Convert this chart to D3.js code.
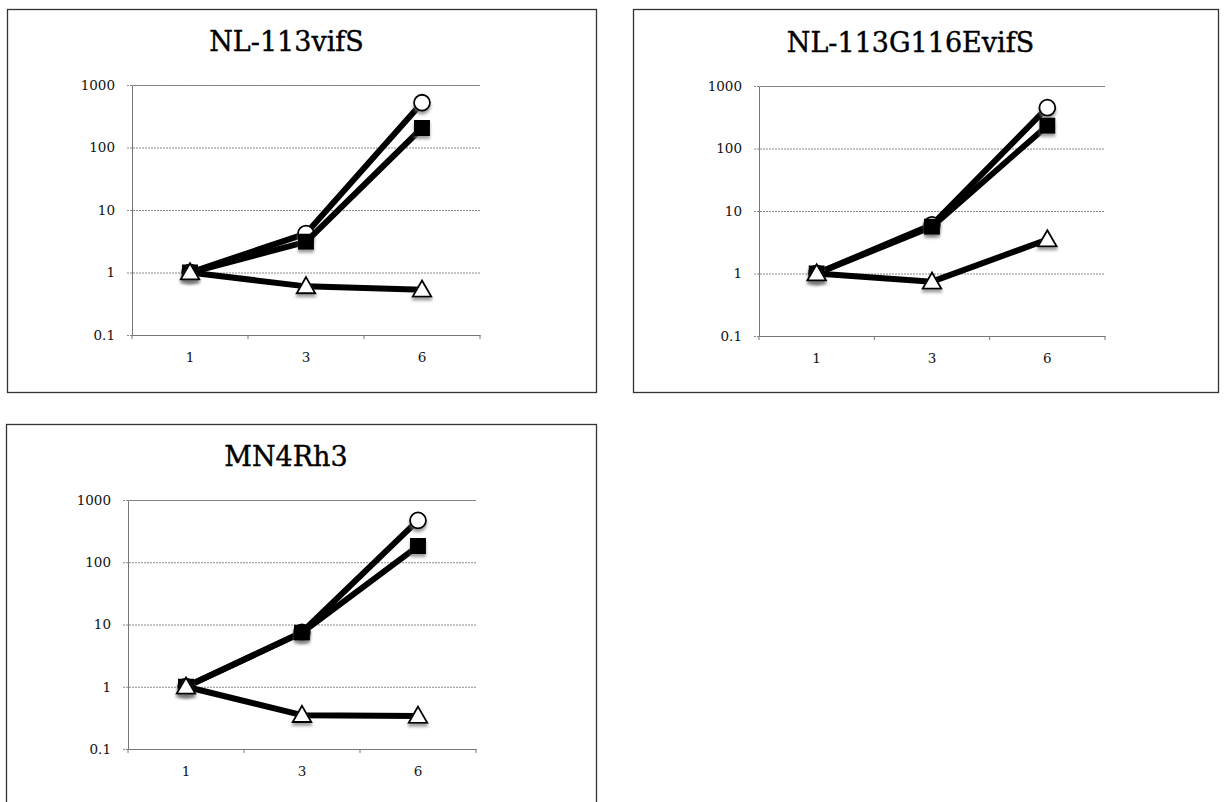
<!DOCTYPE html>
<html>
<head>
<meta charset="utf-8">
<script src="https://cdn.jsdelivr.net/npm/d3@7"></script>
<style>
  body { margin: 0; background: #fff; }
  svg { display: block; }
</style>
</head>
<body>
<svg id="chart" width="1224" height="802"></svg>
<script>
'use strict';

// chart data
var days = ['1', '3', '6'];
var panelTitles = ['NL-113vifS', 'NL-113G116EvifS', 'MN4Rh3'];
var circleValues = [[1, 4.2, 520], [1, 6, 450], [1, 7.5, 470]];
var squareValues = [[1, 3.1, 205], [1, 5.6, 232], [1, 7.4, 182]];
var triangleValues = [[1, 0.6, 0.53], [1, 0.74, 3.5], [1, 0.35, 0.34]];
var yTicks = [0.1, 1, 10, 100, 1000];

// panel boxes and plot areas (pixels)
var panels = [
    { box: [7, 9, 596, 392], plot: [132, 480, 85, 335] },
    { box: [633, 9, 1218, 392], plot: [759, 1105, 86, 336] },
    { box: [6, 424, 596, 808], plot: [128, 476, 500, 749] }
];

var serif = '"DejaVu Serif", "Liberation Serif", serif';
var svg = d3.select('#chart');

var defs = svg.append('defs');
var shadow = defs.append('filter').attr('id', 'shadow')
    .attr('x', '-50%').attr('y', '-50%').attr('width', '200%').attr('height', '200%');
shadow.append('feDropShadow')
    .attr('dx', 0).attr('dy', 3).attr('stdDeviation', 1.6)
    .attr('flood-color', '#777').attr('flood-opacity', 0.7);

panels.forEach(function (p, i) {
    var g = svg.append('g');
    var b = p.box;

    g.append('rect')
        .attr('x', b[0] + 0.5).attr('y', b[1] + 0.5)
        .attr('width', b[2] - b[0]).attr('height', b[3] - b[1])
        .attr('fill', '#fff').attr('stroke', '#333').attr('stroke-width', 1.3);

    var x = d3.scaleBand().domain(days).range([p.plot[0], p.plot[1]]);
    var y = d3.scaleLog().domain([0.1, 1000]).range([p.plot[3], p.plot[2]]);

    // title, sits a bit left of the box centre like in the original
    g.append('text')
        .attr('x', (b[0] + b[2]) / 2 - 15)
        .attr('y', p.plot[2] - 34)
        .attr('text-anchor', 'middle')
        .style('font-family', serif)
        .style('font-size', '27px')
        .attr('fill', '#000')
        .attr('stroke', '#000').attr('stroke-width', 0.4)
        .text(panelTitles[i]);

    // gridlines + y axis
    var yAxis = d3.axisLeft(y).tickValues(yTicks).tickSize(-(p.plot[1] - p.plot[0])).tickPadding(17)
        .tickFormat(function (d) { return d < 1 ? '0.1' : d3.format('d')(d); });
    var ya = g.append('g').attr('transform', 'translate(' + p.plot[0] + ',0)').call(yAxis);
    ya.select('.domain').attr('stroke', '#777');
    ya.selectAll('.tick line').attr('stroke', '#888').attr('stroke-width', 1)
        .attr('x1', -5).attr('stroke-dasharray', '2,1');
    ya.selectAll('.tick text').style('font-family', serif).style('font-size', '13.5px').attr('fill', '#111');

    // x axis with ticks between the categories
    var xAxis = d3.axisBottom(x).tickSize(0).tickPadding(17);
    var xa = g.append('g').attr('transform', 'translate(0,' + p.plot[3] + ')').call(xAxis);
    xa.select('.domain').attr('stroke', '#777');
    xa.selectAll('.tick text').style('font-family', serif).style('font-size', '13.5px').attr('fill', '#111');
    var edges = days.map(function (d) { return x(d); }).concat([x.range()[1]]);
    xa.selectAll('.sep').data(edges).enter().append('line')
        .attr('class', 'sep')
        .attr('x1', function (d) { return d; }).attr('x2', function (d) { return d; })
        .attr('y1', 0).attr('y2', 4)
        .attr('stroke', '#777');

    var cx = function (d, j) { return x(days[j]) + x.bandwidth() / 2; };
    var line = d3.line().x(cx).y(function (d) { return y(d); });

    var series = [
        { values: circleValues[i], shape: 'circle' },
        { values: squareValues[i], shape: 'square' },
        { values: triangleValues[i], shape: 'triangle' }
    ];

    series.forEach(function (s) {
        g.append('path')
            .datum(s.values)
            .attr('d', line)
            .attr('fill', 'none')
            .attr('stroke', '#000')
            .attr('stroke-width', 6)
            .attr('stroke-linejoin', 'round');

        var sym = s.shape === 'circle' ? d3.symbolCircle : s.shape === 'square' ? d3.symbolSquare : d3.symbolTriangle;
        var size = s.shape === 'circle' ? 200 : s.shape === 'square' ? 200 : 150;
        g.selectAll('.m-' + s.shape).data(s.values).enter().append('path')
            .attr('class', 'm-' + s.shape)
            .attr('d', d3.symbol().type(sym).size(size))
            .attr('transform', function (d, j) {
                var dy = s.shape === 'triangle' ? 1.5 : 0;
                return 'translate(' + cx(d, j) + ',' + (y(d) + dy) + ')';
            })
            .attr('fill', s.shape === 'square' ? '#000' : '#fff')
            .attr('stroke', '#000')
            .attr('stroke-width', 1.8)
            .attr('filter', 'url(#shadow)');
    });
});
</script>
</body>
</html>
